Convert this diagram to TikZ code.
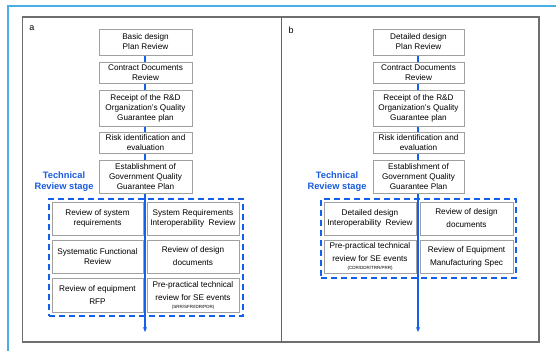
\documentclass[tikz,border=0pt]{standalone}
\usepackage{fontspec}
\setmainfont{Liberation Sans}
\usetikzlibrary{backgrounds,shadows,arrows.meta}
\definecolor{flowblue}{RGB}{20,95,235}
\definecolor{techblue}{RGB}{25,90,220}
\definecolor{outerblue}{RGB}{70,175,230}
\definecolor{framegray}{RGB}{110,110,110}
\definecolor{divider}{RGB}{60,110,140}
\definecolor{boxgray}{RGB}{160,160,160}
\tikzset{
  stepbox/.style={draw=boxgray, line width=1pt, fill=white, inner sep=0pt,
    align=center, font=\fontsize{8.2}{10}\selectfont,
    drop shadow={shadow xshift=0.7pt, shadow yshift=-0.7pt, fill=gray!35, opacity=1}},
  wide/.style={font=\fontsize{8.2}{13}\selectfont},
  techlabel/.style={text=techblue, font=\bfseries\fontsize{9.3}{11}\selectfont, align=center, inner sep=0pt},
  stagebox/.style={draw=flowblue, line width=1.6pt, dash pattern=on 6pt off 4pt},
  flow/.style={draw=flowblue, line width=1.2pt},
  panellabel/.style={font=\fontsize{9}{10}\selectfont, inner sep=0pt}
}
\newcommand{\tinyline}[1]{{\fontsize{4.5}{5}\selectfont #1}}
\begin{document}
\begin{tikzpicture}[x=1pt,y=-1pt]
\useasboundingbox (0,0) rectangle (556,351);
% outer frame (cropped)
\begin{scope}
\clip (0,0) rectangle (556,351);
\draw[outerblue, line width=1.6pt] (8,351) -- (8,6) -- (556,6);
\end{scope}
% panel frame
\draw[framegray, line width=1.2pt] (22.7,17) rectangle (539,342);
\draw[divider, line width=1pt] (281.5,17) -- (281.5,342);
\node[panellabel] (la) at (32,28) {a};
\node[panellabel] (lb) at (291,30) {b};

% ---------- panel a ----------
\node[stepbox, minimum width=93pt, minimum height=26pt] (a1) at (145.5,42) {Basic design\\Plan Review};
\node[stepbox, minimum width=93pt, minimum height=21pt] (a2) at (145.5,72.5) {Contract Documents\\Review};
\node[stepbox, minimum width=93pt, minimum height=36pt] (a3) at (145.5,108) {Receipt of the R\&D\\Organization's Quality\\Guarantee plan};
\node[stepbox, minimum width=93pt, minimum height=21pt] (a4) at (145.5,142.5) {Risk identification and\\evaluation};
\node[stepbox, minimum width=93pt, minimum height=33pt] (a5) at (145.5,176.5) {Establishment of\\Government Quality\\Guarantee Plan};
\node[techlabel] (ta) at (64,181.5) {Technical\\Review stage};
\node[stagebox, minimum width=194pt, minimum height=117pt, inner sep=0pt] (sa) at (146,257.5) {};
\node[stepbox, minimum width=91pt, minimum height=33pt] (g11) at (97.5,218.5) {Review of system\\requirements};
\node[stepbox, minimum width=92pt, minimum height=33pt] (g12) at (193,218.5) {System Requirements\\Interoperability\ \ Review};
\node[stepbox, minimum width=91pt, minimum height=33pt] (g21) at (97.5,256.5) {Systematic Functional\\Review};
\node[stepbox, wide, minimum width=92pt, minimum height=33pt] (g22) at (193,256.5) {Review of design\\documents};
\node[stepbox, wide, minimum width=91pt, minimum height=34pt] (g31) at (97.5,295) {Review of equipment\\RFP};
\node[stepbox, wide, minimum width=92pt, minimum height=34pt] (g32) at (193,295) {Pre-practical technical\\review for SE events\\[-5pt]\tinyline{(SRR/SFR/IDR/PDR)}};
\coordinate (enda) at (145,332);
\begin{pgfonlayer}{background}
\draw[flow, -{Stealth[length=5pt,width=4pt]}] (a1.south -| enda) -- (enda);
\end{pgfonlayer}

% ---------- panel b ----------
\node[stepbox, minimum width=91pt, minimum height=26pt] (b1) at (418.5,42) {Detailed design\\Plan Review};
\node[stepbox, minimum width=91pt, minimum height=21pt] (b2) at (418.5,72.5) {Contract Documents\\Review};
\node[stepbox, minimum width=91pt, minimum height=36pt] (b3) at (418.5,108) {Receipt of the R\&D\\Organization's Quality\\Guarantee plan};
\node[stepbox, minimum width=91pt, minimum height=21pt] (b4) at (418.5,142.5) {Risk identification and\\evaluation};
\node[stepbox, minimum width=91pt, minimum height=33pt] (b5) at (418.5,176.5) {Establishment of\\Government Quality\\Guarantee Plan};
\node[techlabel] (tb) at (337,181.5) {Technical\\Review stage};
\node[stagebox, minimum width=195pt, minimum height=79pt, inner sep=0pt] (sb) at (418.5,238.5) {};
\node[stepbox, minimum width=92pt, minimum height=33pt] (h11) at (370,218.5) {Detailed design\\Interoperability\ \ Review};
\node[stepbox, wide, minimum width=93pt, minimum height=33pt] (h12) at (466.5,218.5) {Review of design\\documents};
\node[stepbox, wide, minimum width=92pt, minimum height=33pt] (h21) at (370,256.5) {Pre-practical technical\\review for SE events\\[-5pt]\tinyline{(CDR/DDR/TRR/PRR)}};
\node[stepbox, wide, minimum width=93pt, minimum height=33pt] (h22) at (466.5,256.5) {Review of Equipment\\Manufacturing Spec};
\coordinate (endb) at (418,332);
\begin{pgfonlayer}{background}
\draw[flow, -{Stealth[length=5pt,width=4pt]}] (b1.south -| endb) -- (endb);
\end{pgfonlayer}
\end{tikzpicture}
\end{document}
